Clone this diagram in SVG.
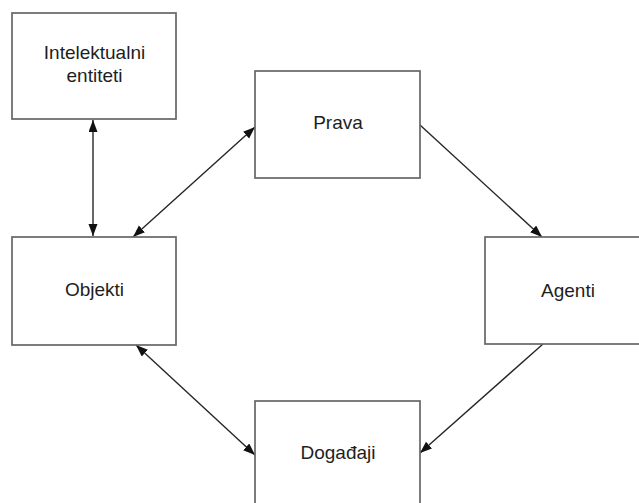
<svg xmlns="http://www.w3.org/2000/svg" width="639" height="503" viewBox="0 0 639 503">
  <style>
    .box { fill: #ffffff; stroke: #666666; stroke-width: 1.7; }
    .label { font-family: "Liberation Sans", Arial, Helvetica, sans-serif; font-size: 19px; fill: #1e1e1e; text-anchor: middle; }
    .edge { stroke: #262626; stroke-width: 1.4; fill: none; }
  </style>
  <defs>
    <marker id="arrow" markerUnits="userSpaceOnUse" markerWidth="13" markerHeight="10" refX="12" refY="4.5" orient="auto-start-reverse">
      <path d="M0,0 L12,4.5 L0,9 Z" fill="#111111"/>
    </marker>
  </defs>
  <rect width="639" height="503" fill="#ffffff"/>

  <g id="connectors">
    <line class="edge" x1="93" y1="120" x2="93" y2="236" marker-start="url(#arrow)" marker-end="url(#arrow)"/>
    <line class="edge" x1="133" y1="237" x2="255" y2="127" marker-start="url(#arrow)" marker-end="url(#arrow)"/>
    <line class="edge" x1="420" y1="125" x2="542" y2="237" marker-end="url(#arrow)"/>
    <line class="edge" x1="543" y1="344" x2="420" y2="453" marker-end="url(#arrow)"/>
    <line class="edge" x1="136" y1="345" x2="255" y2="455" marker-start="url(#arrow)" marker-end="url(#arrow)"/>
  </g>

  <g id="node-intelektualni-entiteti">
    <rect class="box" x="12" y="13" width="164" height="106"/>
    <text class="label" x="94.5" y="59">Intelektualni</text>
    <text class="label" x="94.5" y="81.5">entiteti</text>
  </g>

  <g id="node-objekti">
    <rect class="box" x="12" y="237" width="164" height="108"/>
    <text class="label" x="94.5" y="295.5">Objekti</text>
  </g>

  <g id="node-prava">
    <rect class="box" x="255" y="71" width="165" height="107"/>
    <text class="label" x="338" y="128.5">Prava</text>
  </g>

  <g id="node-agenti">
    <rect class="box" x="485" y="237" width="170" height="107"/>
    <text class="label" x="568" y="296.5">Agenti</text>
  </g>

  <g id="node-dogadaji">
    <rect class="box" x="255" y="401" width="165" height="110"/>
    <text class="label" x="338" y="458.5">Događaji</text>
  </g>
</svg>
